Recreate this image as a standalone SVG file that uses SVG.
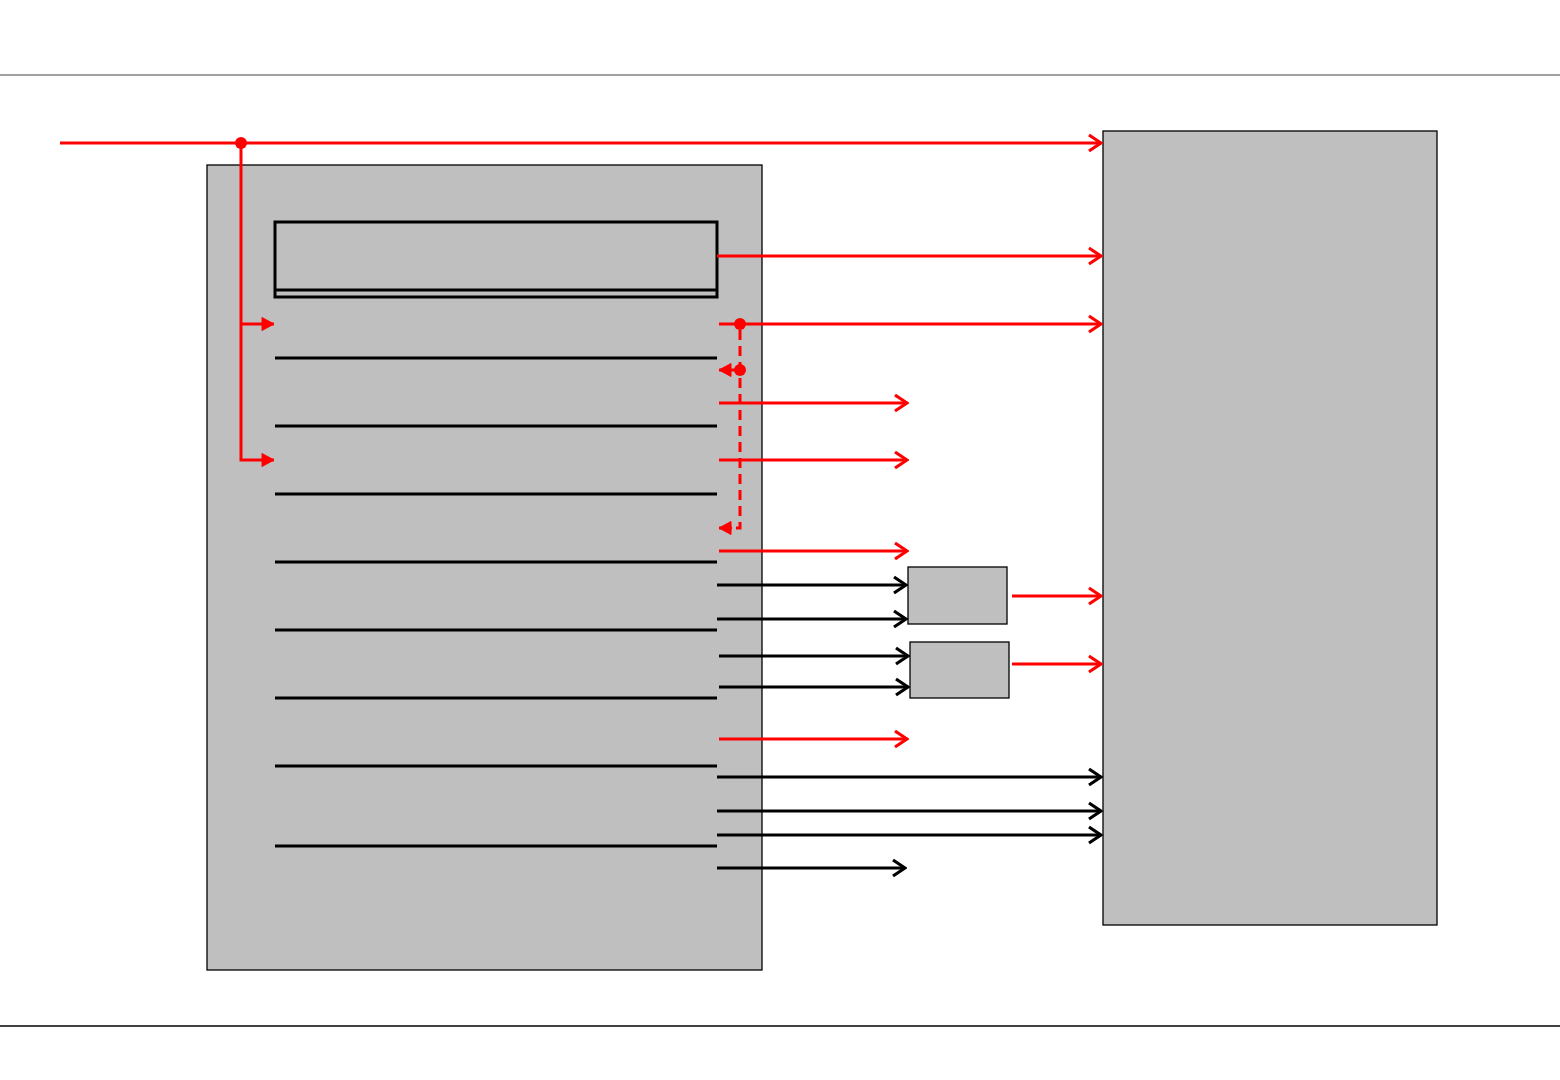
<svg xmlns="http://www.w3.org/2000/svg" width="1560" height="1080" viewBox="0 0 1560 1080">
<style>
.box{fill:#bfbfbf;stroke:#000;stroke-width:1.3}
.div{stroke:#000;stroke-width:3;fill:none}
.r{stroke:#ff0000;stroke-width:3;fill:none}
.rd{stroke:#ff0000;stroke-width:3;fill:none;stroke-dasharray:10 6}
.k{stroke:#000;stroke-width:3.2;fill:none}
.dot{fill:#ff0000}
</style>
<defs>
<marker id="ro" markerUnits="userSpaceOnUse" viewBox="-14 -10 16 20" refX="0" refY="0" markerWidth="16" markerHeight="20" orient="auto">
<path d="M-12,-8 L0,0 L-12,8" fill="none" stroke="#ff0000" stroke-width="3.2"/>
</marker>
<marker id="ko" markerUnits="userSpaceOnUse" viewBox="-14 -10 16 20" refX="0" refY="0" markerWidth="16" markerHeight="20" orient="auto">
<path d="M-12,-8 L0,0 L-12,8" fill="none" stroke="#000" stroke-width="3.2"/>
</marker>
<marker id="rf" markerUnits="userSpaceOnUse" viewBox="-16 -9 18 18" refX="0" refY="0" markerWidth="18" markerHeight="18" orient="auto" overflow="visible">
<path d="M-12,-6.5 L0,0 L-12,6.5 Z" fill="#ff0000" stroke="#ff0000" stroke-width="1" stroke-linejoin="miter"/>
</marker>
</defs>
<line x1="0" y1="75" x2="1560" y2="75" stroke="#808080" stroke-width="1.6"/>
<line x1="0" y1="1026" x2="1560" y2="1026" stroke="#000" stroke-width="1.3"/>
<g id="left-block">
<rect class="box" x="207" y="165" width="555" height="805"/>
<rect class="div" x="275" y="222" width="442" height="75"/>
<line class="div" x1="275" y1="290" x2="717" y2="290"/>
<line class="div" x1="275" y1="358" x2="717" y2="358"/>
<line class="div" x1="275" y1="426" x2="717" y2="426"/>
<line class="div" x1="275" y1="494" x2="717" y2="494"/>
<line class="div" x1="275" y1="562" x2="717" y2="562"/>
<line class="div" x1="275" y1="630" x2="717" y2="630"/>
<line class="div" x1="275" y1="698" x2="717" y2="698"/>
<line class="div" x1="275" y1="766" x2="717" y2="766"/>
<line class="div" x1="275" y1="846" x2="717" y2="846"/>
</g>
<g id="right-block">
<rect class="box" x="1103" y="131" width="334" height="794"/>
</g>
<g id="small-box-1">
<rect class="box" x="908" y="567" width="99" height="57"/>
</g>
<g id="small-box-2">
<rect class="box" x="910" y="642" width="99" height="56"/>
</g>
<g id="connectors">
<line class="r" x1="60" y1="143" x2="1101" y2="143" marker-end="url(#ro)"/>
<circle class="dot" cx="241" cy="143" r="6"/>
<polyline class="r" points="241,143 241,460 274,460" marker-end="url(#rf)"/>
<line class="r" x1="241" y1="324" x2="274" y2="324" marker-end="url(#rf)"/>
<line class="r" x1="717" y1="256" x2="1101" y2="256" marker-end="url(#ro)"/>
<line class="r" x1="719" y1="324" x2="1101" y2="324" marker-end="url(#ro)"/>
<circle class="dot" cx="740" cy="324" r="6"/>
<polyline class="rd" points="740,330 740,528 730,528"/>
<line class="r" x1="732" y1="528" x2="719" y2="528" marker-end="url(#rf)"/>
<circle class="dot" cx="740" cy="370" r="6"/>
<line class="r" x1="740" y1="370" x2="719" y2="370" marker-end="url(#rf)"/>
<line class="r" x1="719" y1="403" x2="907" y2="403" marker-end="url(#ro)"/>
<line class="r" x1="719" y1="460" x2="907" y2="460" marker-end="url(#ro)"/>
<line class="r" x1="719" y1="551" x2="907" y2="551" marker-end="url(#ro)"/>
<line class="r" x1="719" y1="739" x2="907" y2="739" marker-end="url(#ro)"/>
<line class="k" x1="717" y1="585" x2="906" y2="585" marker-end="url(#ko)"/>
<line class="k" x1="717" y1="619" x2="906" y2="619" marker-end="url(#ko)"/>
<line class="k" x1="719" y1="656" x2="908" y2="656" marker-end="url(#ko)"/>
<line class="k" x1="719" y1="687" x2="908" y2="687" marker-end="url(#ko)"/>
<line class="r" x1="1012" y1="596" x2="1101" y2="596" marker-end="url(#ro)"/>
<line class="r" x1="1012" y1="664" x2="1101" y2="664" marker-end="url(#ro)"/>
<line class="k" x1="717" y1="777" x2="1101" y2="777" marker-end="url(#ko)"/>
<line class="k" x1="717" y1="811" x2="1101" y2="811" marker-end="url(#ko)"/>
<line class="k" x1="717" y1="835" x2="1101" y2="835" marker-end="url(#ko)"/>
<line class="k" x1="717" y1="868" x2="905" y2="868" marker-end="url(#ko)"/>
</g>
</svg>
